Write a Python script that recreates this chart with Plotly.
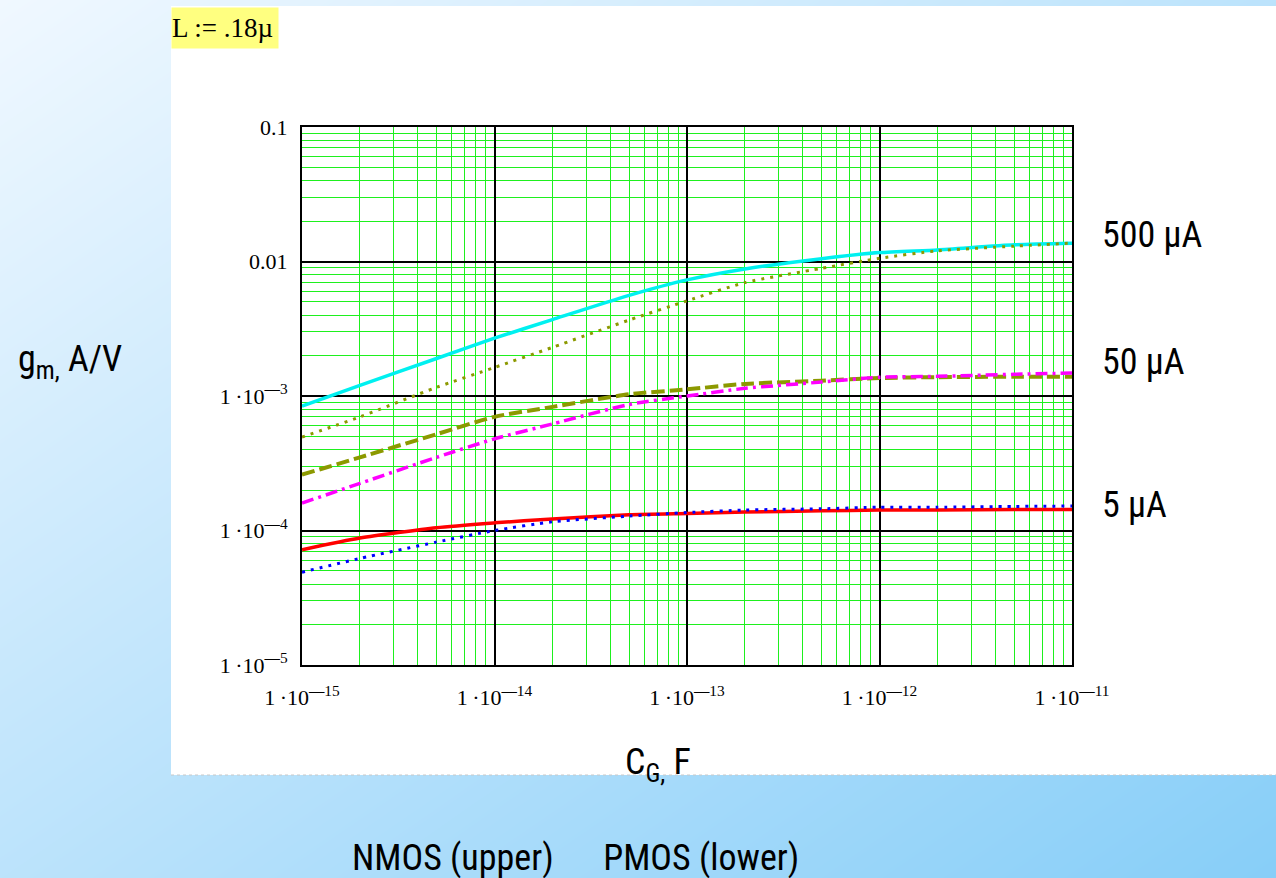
import numpy as np
import plotly.graph_objects as go

W, H = 1276, 878

# ---- data ----
cap_F = [1e-15, 2e-15, 5e-15, 1e-14, 2e-14, 5e-14, 1e-13, 2e-13, 5e-13, 1e-12, 2e-12, 5e-12, 1e-11]
gm_500uA_upper = [8.4e-4, 1.2e-3, 1.9e-3, 2.69e-3, 3.7e-3, 5.6e-3, 7.3e-3, 8.8e-3, 1.05e-2, 1.165e-2, 1.22e-2, 1.33e-2, 1.365e-2]
gm_500uA_lower = [4.95e-4, 7.0e-4, 1.16e-3, 1.63e-3, 2.3e-3, 3.67e-3, 5.1e-3, 6.97e-3, 8.9e-3, 1.057e-2, 1.2e-2, 1.3e-2, 1.37e-2]
gm_50uA_upper = [2.6e-4, 3.5e-4, 5.2e-4, 7.0e-4, 8.3e-4, 1.03e-3, 1.12e-3, 1.23e-3, 1.3e-3, 1.36e-3, 1.38e-3, 1.39e-3, 1.39e-3]
gm_50uA_lower = [1.6e-4, 2.24e-4, 3.5e-4, 4.8e-4, 6.2e-4, 8.65e-4, 1.0e-3, 1.14e-3, 1.27e-3, 1.38e-3, 1.4e-3, 1.45e-3, 1.48e-3]
gm_5uA_upper = [7.2e-5, 8.8e-5, 1.05e-4, 1.14e-4, 1.22e-4, 1.31e-4, 1.34e-4, 1.37e-4, 1.40e-4, 1.42e-4, 1.42e-4, 1.43e-4, 1.43e-4]
gm_5uA_lower = [4.9e-5, 6.2e-5, 8.2e-5, 1.0e-4, 1.16e-4, 1.28e-4, 1.36e-4, 1.42e-4, 1.45e-4, 1.49e-4, 1.49e-4, 1.51e-4, 1.52e-4]

x_tickvals = [1e-15, 1e-14, 1e-13, 1e-12, 1e-11]
x_exponents = ["15", "14", "13", "12", "11"]
y_tickvals = [1e-5, 1e-4, 1e-3, 1e-2, 1e-1]
y_exponents = ["5", "4", "3", None, None]
y_plain = [None, None, None, "0.01", "0.1"]

current_labels = ["500 µA", "50 µA", "5 µA"]

# ---- styling ----
NARROW = "Liberation Sans Narrow, Arial Narrow, Roboto Condensed, sans-serif"
SERIF = "Liberation Serif, Times New Roman, serif"
GREEN = "#1ef01e"


def pow_label(exp):
    return "1\u2009·10<sup><b>—</b>" + exp + "</sup>"


x_ticktext = [pow_label(e) for e in x_exponents]
y_ticktext = [p if p is not None else pow_label(e) for e, p in zip(y_exponents, y_plain)]

minor_x = [m * 10.0 ** e for e in range(-15, -11) for m in range(2, 10)]
minor_y = [m * 10.0 ** e for e in range(-5, -1) for m in range(2, 10)]

fig = go.Figure()

# background gradient (full page) on a pixel-coordinate helper axis
gx = np.linspace(-40, W + 40, 30)
gy = np.linspace(-40, H + 40, 30)
gz = 0.5 * gx[None, :] / W + 0.5 * gy[:, None] / H
fig.add_trace(go.Heatmap(x=gx, y=gy, z=gz, zmin=0, zmax=1, zsmooth="best",
                         colorscale=[[0, "rgb(240,248,255)"], [1, "rgb(135,206,248)"]],
                         showscale=False, hoverinfo="skip", xaxis="x", yaxis="y"))
# white panel
fig.add_trace(go.Heatmap(x=[171, W + 5], y=[6, 775], z=[[0]], zmin=0, zmax=1,
                         colorscale=[[0, "white"], [1, "white"]],
                         showscale=False, hoverinfo="skip", xaxis="x", yaxis="y"))

series = [
    (gm_500uA_upper, "#00f0f0", "solid", 3.5),
    (gm_500uA_lower, "#8c9900", "3px,6px", 3),
    (gm_50uA_upper, "#8c9900", "13px,5px", 4),
    (gm_50uA_lower, "#ff00ff", "12px,5px,3px,5px", 3.5),
    (gm_5uA_upper, "#ff0000", "solid", 3.5),
    (gm_5uA_lower, "#0000ff", "3px,6px", 3),
]
for ys, col, dash, w in series:
    fig.add_trace(go.Scatter(x=cap_F, y=ys, mode="lines",
                             line=dict(color=col, dash=dash, width=w, shape="spline", smoothing=0.6),
                             xaxis="x2", yaxis="y2", showlegend=False, hoverinfo="x+y"))

x0, x1 = 302 / W, 1072 / W
y0, y1 = 1 - 665 / H, 1 - 127 / H

fig.update_layout(
    width=W, height=H,
    margin=dict(l=0, r=0, t=0, b=0, autoexpand=False),
    paper_bgcolor="white", plot_bgcolor="white",
    showlegend=False,
    xaxis=dict(range=[0, W], domain=[0, 1], visible=False, fixedrange=True, showgrid=False),
    yaxis=dict(range=[H, 0], domain=[0, 1], visible=False, fixedrange=True, showgrid=False),
    xaxis2=dict(type="log", range=[-15, -11], domain=[x0, x1], anchor="y2",
                tickmode="array", tickvals=x_tickvals, ticktext=x_ticktext,
                ticks="outside", ticklen=12, tickcolor="rgba(0,0,0,0)",
                tickfont=dict(family=SERIF, size=22, color="black"),
                showgrid=True, gridcolor="black", gridwidth=2,
                showline=True, linecolor="black", linewidth=2, mirror=True,
                minor=dict(tickmode="array", tickvals=minor_x, showgrid=True,
                           gridcolor=GREEN, gridwidth=1, ticks=""),
                zeroline=False, automargin=False),
    yaxis2=dict(type="log", range=[-5, -1], domain=[y0, y1], anchor="x2",
                tickmode="array", tickvals=y_tickvals, ticktext=y_ticktext,
                ticks="outside", ticklen=8, tickcolor="rgba(0,0,0,0)",
                tickfont=dict(family=SERIF, size=22, color="black"),
                showgrid=True, gridcolor="black", gridwidth=2,
                showline=True, linecolor="black", linewidth=2, mirror=True,
                minor=dict(tickmode="array", tickvals=minor_y, showgrid=True,
                           gridcolor=GREEN, gridwidth=1, ticks=""),
                zeroline=False, automargin=False),
)

fig.add_shape(type="line", xref="paper", yref="paper", x0=171 / W, x1=1, y0=1 - 775 / H, y1=1 - 775 / H,
              line=dict(color="#c8c8c8", width=1, dash="dot"), layer="above")


def px(x): return x / W
def py(y): return 1 - y / H


ann = []
ann.append(dict(x=px(171), y=py(7), xref="paper", yref="paper", xanchor="left", yanchor="top",
                text="L := .18µ", showarrow=False, align="left", bgcolor="#ffff80",
                width=106, height=40, borderpad=0,
                font=dict(family=SERIF, size=27, color="black")))
for lab, yy in zip(current_labels, [235, 362, 505]):
    ann.append(dict(x=px(1100), y=py(yy), xref="paper", yref="paper", xanchor="left", yanchor="middle",
                    text=lab, showarrow=False, font=dict(family=NARROW, size=36, color="black")))
ann.append(dict(x=px(16), y=py(362), xref="paper", yref="paper", xanchor="left", yanchor="middle",
                text="g<sub>m,</sub> A/V", showarrow=False, font=dict(family=NARROW, size=36, color="black")))
ann.append(dict(x=px(658), y=py(764), xref="paper", yref="paper", xanchor="center", yanchor="middle",
                text="C<sub>G,</sub> F", showarrow=False, font=dict(family=NARROW, size=36, color="black")))
ann.append(dict(x=px(575), y=py(858), xref="paper", yref="paper", xanchor="center", yanchor="middle",
                text="NMOS (upper)      PMOS (lower)", showarrow=False,
                font=dict(family=NARROW, size=36, color="black")))
fig.update_layout(annotations=ann)

fig.write_html("out.html", config={"displayModeBar": False},
               post_script="document.body.style.margin='0';document.body.style.overflow='hidden';")
